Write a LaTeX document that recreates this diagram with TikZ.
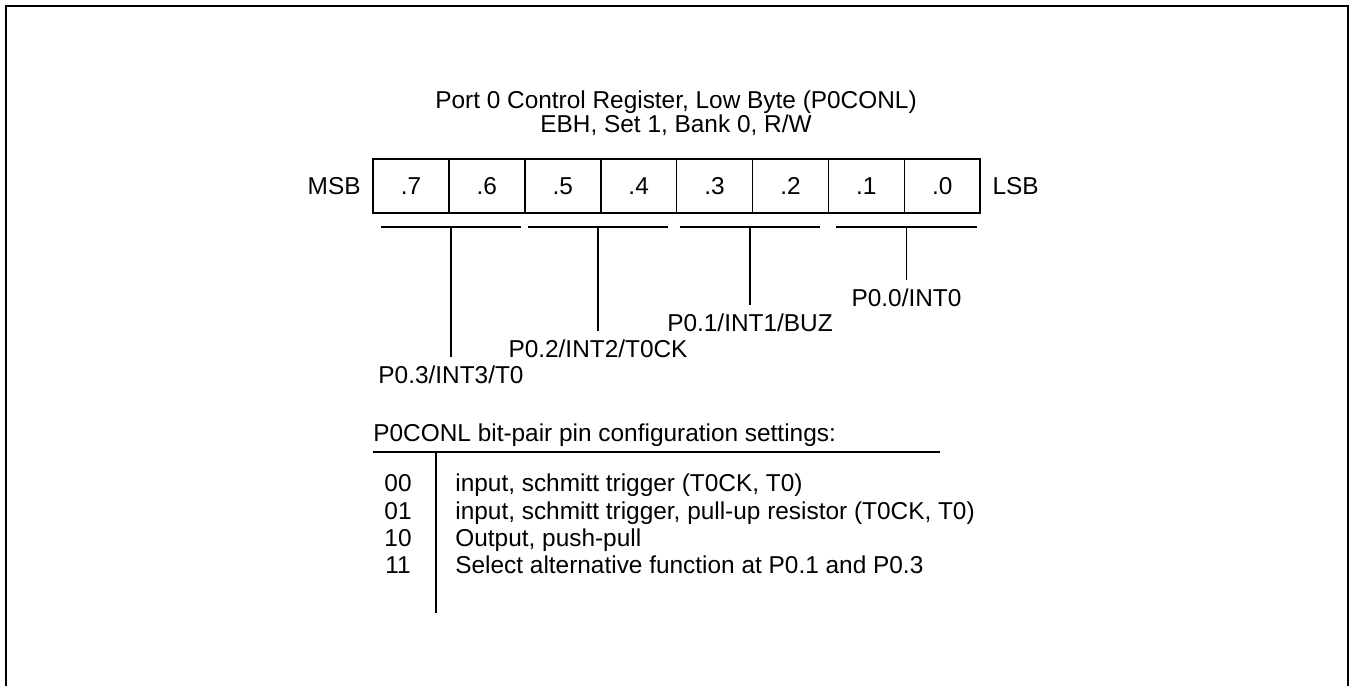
\documentclass[tikz,border=0pt]{standalone}
\usepackage{fontspec}
\setmainfont{Liberation Sans}
\usetikzlibrary{positioning}
\tikzset{
  txt/.style={inner sep=0pt, text height=9pt, text depth=0.2pt, font=\fontsize{12.2pt}{14pt}\selectfont},
  pinlbl/.style={txt, outer ysep=4.4pt},
  cell/.style={draw, rectangle, minimum width=37.95pt, minimum height=27pt, inner sep=0pt, outer sep=0pt, line width=0.8pt, font=\fontsize{12.2pt}{14pt}\selectfont},
  wire/.style={line width=0.75pt},
}
\begin{document}
\begin{tikzpicture}[x=0.5pt, y=-0.5pt]
\useasboundingbox (0,0) rectangle (1353,686);

% Frame
\draw[line width=1pt] (5.5,686) -- (5.5,5.5) -- (1347.5,5.5) -- (1347.5,686);

% Title
\node[txt] (title) at (676,100) {Port 0 Control Register, Low Byte (P0CONL)};
\node[txt] (addr) at (676,124) {EBH, Set 1, Bank 0, R/W};

% Register cells
\foreach \b [count=\i from 0] in {7,...,0}
  \node[cell] (b\b) at ({373+75.9*(\i+0.5)},186) {.\b};
\node[txt, left=6pt of b7] (msb) {MSB};
\node[txt, right=6pt of b0] (lsb) {LSB};

% Bit-pair brackets and pin names
\foreach \n/\xa/\xb/\ly/\lbl in {3/381/521/375/{P0.3/INT3/T0},
    2/528/668/349/{P0.2/INT2/T0CK},
    1/680/820/323/{P0.1/INT1/BUZ},
    0/836/977/298/{P0.0/INT0}} {
  \coordinate (l\n) at (\xa,227);
  \coordinate (r\n) at (\xb,227);
  \coordinate (m\n) at ({(\xa+\xb)/2},227);
  \draw[wire] (l\n) -- (r\n);
  \node[pinlbl] (p\n) at ({(\xa+\xb)/2},\ly) {\lbl};
  \draw[wire] (m\n) -- (p\n.north);
}

% Settings table
\node[txt, anchor=west] (head) at (373,433) {P0CONL bit-pair pin configuration settings:};
\coordinate (hl) at (373,452);
\coordinate (hr) at (940,452);
\draw[wire] (hl) -- (hr);
\coordinate (vt) at (436,452);
\coordinate (vb) at (436,613);
\draw[wire] (vt) -- (vb);
\foreach \c/\y/\d in {00/483/{input, schmitt trigger (T0CK, T0)},
    01/511/{input, schmitt trigger, pull-up resistor (T0CK, T0)},
    10/538/{Output, push-pull},
    11/565/{Select alternative function at P0.1 and P0.3}} {
  \node[txt] (c\c) at (398,\y) {\c};
  \node[txt, anchor=west] (d\c) at (455,\y) {\d};
}

\end{tikzpicture}
\end{document}
